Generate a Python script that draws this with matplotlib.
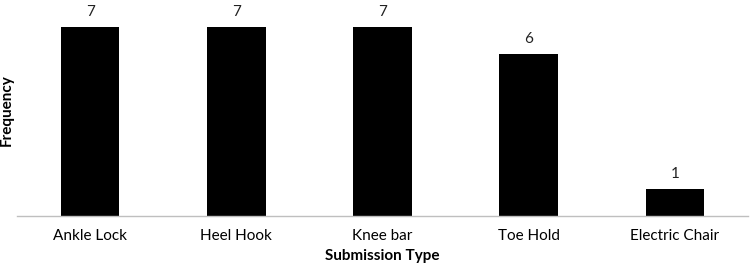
import matplotlib.pyplot as plt
import matplotlib as mpl

mpl.rcParams['font.family'] = ['Lato', 'DejaVu Sans']

submissions = ['Ankle Lock', 'Heel Hook', 'Knee bar', 'Toe Hold', 'Electric Chair']
counts = [7, 7, 7, 6, 1]

fig = plt.figure(figsize=(7.5, 2.71), dpi=100)
ax = fig.add_axes([17/750, 55/271, 731/750, 211/271])

bars = ax.bar(range(len(submissions)), counts, width=0.4, color='black')
for b, v in zip(bars, counts):
    ax.text(b.get_x() + b.get_width()/2, v + 0.28, str(v), ha='center', va='bottom',
            fontsize=11, color='#222222')

ax.set_xlim(-0.5, len(submissions) - 0.5)
ax.set_ylim(0, 7.8)
ax.set_xticks(range(len(submissions)))
ax.set_xticklabels(submissions, fontsize=11)
ax.set_yticks([])
ax.tick_params(axis='x', length=0, pad=9)
for s in ['top', 'right', 'left']:
    ax.spines[s].set_visible(False)
ax.spines['bottom'].set_color('#bfbfbf')
ax.spines['bottom'].set_linewidth(1)

ax.set_xlabel('Submission Type', fontsize=11, fontweight='bold', labelpad=5)
ax.set_ylabel('Frequency', fontsize=11, fontweight='bold', labelpad=2)

fig.savefig('out.png', dpi=100)
